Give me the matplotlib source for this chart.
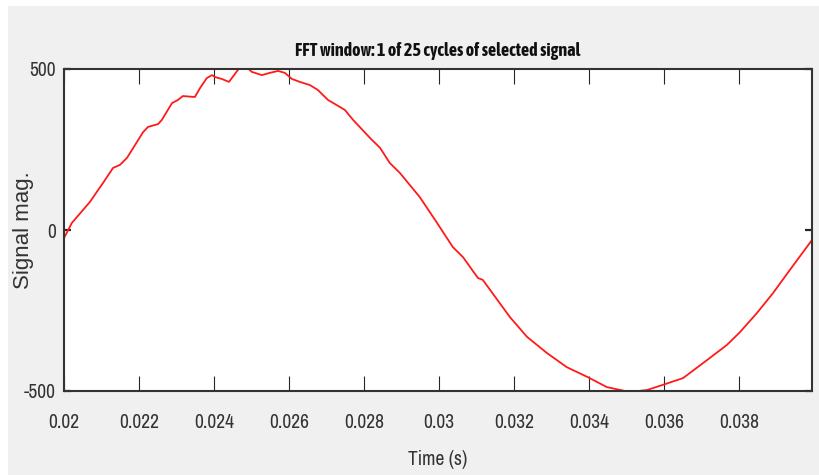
import numpy as np
import matplotlib
matplotlib.use("Agg")
import matplotlib.pyplot as plt
from matplotlib.patches import Rectangle
from matplotlib import font_manager

# samples (time in s, magnitude)
t = [0.02000, 0.02021, 0.02069, 0.02104, 0.02131, 0.02149, 0.02168, 0.02211,
     0.02224, 0.02251, 0.02261, 0.02288, 0.02304, 0.02317, 0.02349, 0.02363,
     0.02381, 0.02395, 0.02403, 0.02421, 0.02440, 0.02469, 0.02488, 0.02501,
     0.02528, 0.02549, 0.02571, 0.02589, 0.02608, 0.02629, 0.02656, 0.02677,
     0.02704, 0.02749, 0.02771, 0.02816, 0.02843, 0.02869, 0.02896, 0.02949,
     0.02995, 0.03037, 0.03064, 0.03104, 0.03117, 0.03189, 0.03235, 0.03288,
     0.03341, 0.03397, 0.03448, 0.03509, 0.03555, 0.03597, 0.03651, 0.03715,
     0.03768, 0.03803, 0.03848, 0.03891, 0.03936, 0.03995]
mag = [-25, 22, 87, 146, 193, 202, 224, 304,
       320, 329, 342, 394, 404, 416, 413, 441,
       472, 481, 475, 469, 460, 505, 505, 491,
       481, 488, 494, 488, 469, 460, 450, 435,
       404, 373, 342, 286, 255, 208, 177, 102,
       22, -53, -84, -149, -155, -270, -332, -382,
       -426, -457, -488, -503, -497, -481, -460, -404,
       -357, -317, -258, -196, -124, -31]

xticks = [0.02, 0.022, 0.024, 0.026, 0.028, 0.03, 0.032, 0.034, 0.036, 0.038]
xlabels = ["0.02", "0.022", "0.024", "0.026", "0.028", "0.03", "0.032", "0.034", "0.036", "0.038"]
yticks = [-500, 0, 500]

# look for a condensed face (prefer one that also has a bold weight)
fl = font_manager.fontManager.ttflist
cond = sorted({f.name for f in fl if "Narrow" in f.name or "Condensed" in f.name})
bold_cond = [n for n in cond
             if any(f.name == n and f.weight in (600, 700, "bold", "semibold") for f in fl)]
if cond:
    narrow = [cond[0], "DejaVu Sans"]
    narrow_b = [(bold_cond or cond)[0], "DejaVu Sans"]
    fs_tick, fs_title = 14, 13
else:
    narrow = narrow_b = ["Liberation Sans", "DejaVu Sans"]
    fs_tick, fs_title = 12.5, 11.5

fig = plt.figure(figsize=(8.19, 4.75), dpi=100, facecolor="white")
# grey panel behind everything, white strip on the left/top like the screenshot
fig.patches.append(Rectangle((8 / 819, 0), 1 - 8 / 819, 469 / 475,
                             transform=fig.transFigure, facecolor="#f0f0f0",
                             edgecolor="none", zorder=-10))

ax = fig.add_axes([64 / 819, 84 / 475, 748 / 819, 322 / 475])
ax.set_zorder(1)
ax.set_facecolor("white")
ax.plot(t, mag, color="#ff1a1a", lw=1.3)

ax.set_xlim(0.02, 0.03995)
ax.set_ylim(-500, 500)
ax.set_xticks(xticks)
ax.set_xticklabels(xlabels, family=narrow, fontsize=fs_tick, color="#333333")
ax.set_yticks(yticks)
ax.set_yticklabels([str(v) for v in yticks], family=narrow, fontsize=fs_tick, color="#333333")

ax.tick_params(axis="x", direction="in", length=11, width=0.8, top=True,
               color="#262626", pad=16)
ax.tick_params(axis="y", direction="in", length=5, width=1.6, right=True,
               color="#262626", pad=6)
for s in ax.spines.values():
    s.set_color("#333333")
    s.set_linewidth(1.5)

ax.set_title("FFT window: 1 of 25 cycles of selected signal", family=narrow_b,
             fontweight="bold", fontsize=fs_title, color="#111111", pad=9)
ax.set_xlabel("Time (s)", family=narrow, fontsize=fs_tick, color="#333333")
ax.xaxis.set_label_coords(0.5, -59 / 322)
ax.set_ylabel("Signal mag.", family=["Liberation Sans", "DejaVu Sans"],
              fontsize=16, color="#333333")
ax.yaxis.set_label_coords(-30 / 748, 0.5)

fig.savefig("out.png", dpi=100, facecolor=fig.get_facecolor())
